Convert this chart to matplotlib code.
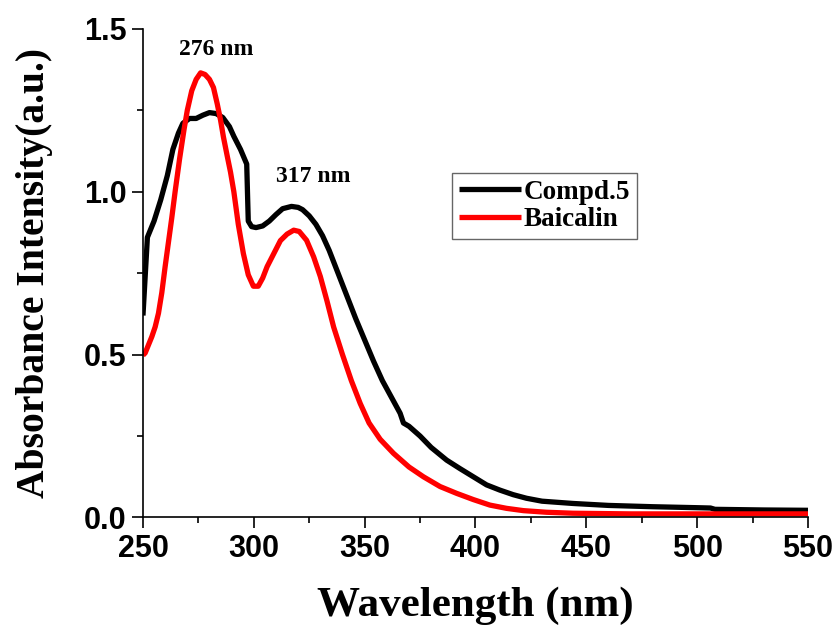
import numpy as np
import matplotlib
matplotlib.use("Agg")
import matplotlib.pyplot as plt
from matplotlib.ticker import MultipleLocator, FormatStrFormatter

# UV-Vis absorbance spectra
compd5_nm = [250, 252, 255, 258, 261, 263.5, 266, 268, 271, 274, 277, 280, 283, 286,
             289, 291, 294, 296.8, 297.5, 299, 301, 304, 307, 310, 313, 317, 320,
             322, 325, 328, 331, 334, 338, 342, 346, 350, 354, 358, 362, 366, 367.5,
             370, 375, 380, 387, 393, 399, 405, 411, 417, 423, 430, 444, 460, 480,
             500, 506, 508, 530, 550]
compd5_abs = [0.62, 0.86, 0.91, 0.975, 1.05, 1.13, 1.18, 1.21, 1.225, 1.225, 1.235,
              1.243, 1.24, 1.228, 1.20, 1.17, 1.13, 1.085, 0.91, 0.893, 0.89, 0.895,
              0.91, 0.93, 0.948, 0.955, 0.952, 0.945, 0.926, 0.90, 0.865, 0.82, 0.75,
              0.68, 0.61, 0.545, 0.48, 0.42, 0.37, 0.32, 0.29, 0.28, 0.25, 0.215,
              0.176, 0.15, 0.125, 0.10, 0.084, 0.07, 0.059, 0.05, 0.043, 0.037,
              0.033, 0.030, 0.029, 0.025, 0.023, 0.022]

baicalin_nm = [250, 251, 252.5, 254, 255.5, 257, 258.5, 260, 261.5, 263, 264.5,
               266.5, 268.5, 270, 272, 274, 276, 278, 280, 281.8, 283.5, 285, 286.3,
               288, 289.5, 291, 293, 295.3, 297.5, 299.8, 302, 304, 306, 309, 312,
               315, 318, 320.5, 323.8, 327, 330, 333, 336, 340, 344, 348, 352, 357,
               363, 370, 376.5, 384, 391.5, 399, 406.5, 414, 421.6, 432, 444, 470,
               500, 550]
baicalin_abs = [0.498, 0.505, 0.53, 0.555, 0.585, 0.627, 0.69, 0.77, 0.845, 0.92,
                1.0, 1.10, 1.19, 1.25, 1.31, 1.345, 1.365, 1.36, 1.345, 1.32, 1.27,
                1.22, 1.168, 1.11, 1.06, 1.00, 0.90, 0.81, 0.745, 0.71, 0.71, 0.735,
                0.77, 0.81, 0.85, 0.87, 0.882, 0.878, 0.851, 0.80, 0.74, 0.665, 0.585,
                0.50, 0.42, 0.35, 0.29, 0.24, 0.197, 0.155, 0.125, 0.095, 0.074,
                0.055, 0.038, 0.028, 0.021, 0.016, 0.013, 0.011, 0.011, 0.011]

peak_labels = ["276 nm", "317 nm"]
peak_label_pos = [(283, 1.405), (327, 1.015)]

serif = ["Liberation Serif", "DejaVu Serif"]
sans = ["Liberation Sans", "DejaVu Sans"]

fig = plt.figure(figsize=(8.37, 6.28), dpi=100)
ax = fig.add_axes([0.1708, 0.176, 0.7946, 0.778])

ax.plot(compd5_nm, compd5_abs, color="black", lw=3.8, label="Compd.5",
        solid_joinstyle="round", solid_capstyle="butt")
ax.plot(baicalin_nm, baicalin_abs, color="#ff0000", lw=3.8, label="Baicalin",
        solid_joinstyle="round", solid_capstyle="butt")

ax.set_xlim(250, 550)
ax.set_ylim(0, 1.5)
ax.xaxis.set_major_locator(MultipleLocator(50))
ax.xaxis.set_minor_locator(MultipleLocator(25))
ax.yaxis.set_major_locator(MultipleLocator(0.5))
ax.yaxis.set_minor_locator(MultipleLocator(0.25))
ax.yaxis.set_major_formatter(FormatStrFormatter("%.1f"))

for side in ("top", "right"):
    ax.spines[side].set_visible(False)
for side in ("left", "bottom"):
    ax.spines[side].set_linewidth(1.2)

ax.tick_params(which="major", direction="out", length=8, width=1.2, pad=4)
ax.tick_params(which="minor", direction="out", length=4.5, width=1.2)
for lab in ax.get_xticklabels() + ax.get_yticklabels():
    lab.set_family(sans)
    lab.set_fontweight("bold")
    lab.set_fontsize(22)

ax.set_xlabel("Wavelength (nm)", family=serif, fontweight="bold", fontsize=31,
              labelpad=16)
ax.set_ylabel("Absorbance Intensity(a.u.)", family=serif, fontweight="bold",
              fontsize=28.5, labelpad=22)

for text, (xv, yv) in zip(peak_labels, peak_label_pos):
    ax.text(xv, yv, text, family=serif, fontweight="bold", fontsize=17,
            ha="center", va="bottom")

leg = ax.legend(loc="upper left", bbox_to_anchor=(0.465, 0.705),
                prop={"family": serif, "weight": "bold", "size": 19.5},
                frameon=True, fancybox=False, handlelength=2.3,
                handletextpad=0.1, borderpad=0.25, labelspacing=0.1,
                borderaxespad=0)
leg.get_frame().set_edgecolor("#404040")
leg.get_frame().set_linewidth(1.0)

fig.savefig("out.png", dpi=100)
